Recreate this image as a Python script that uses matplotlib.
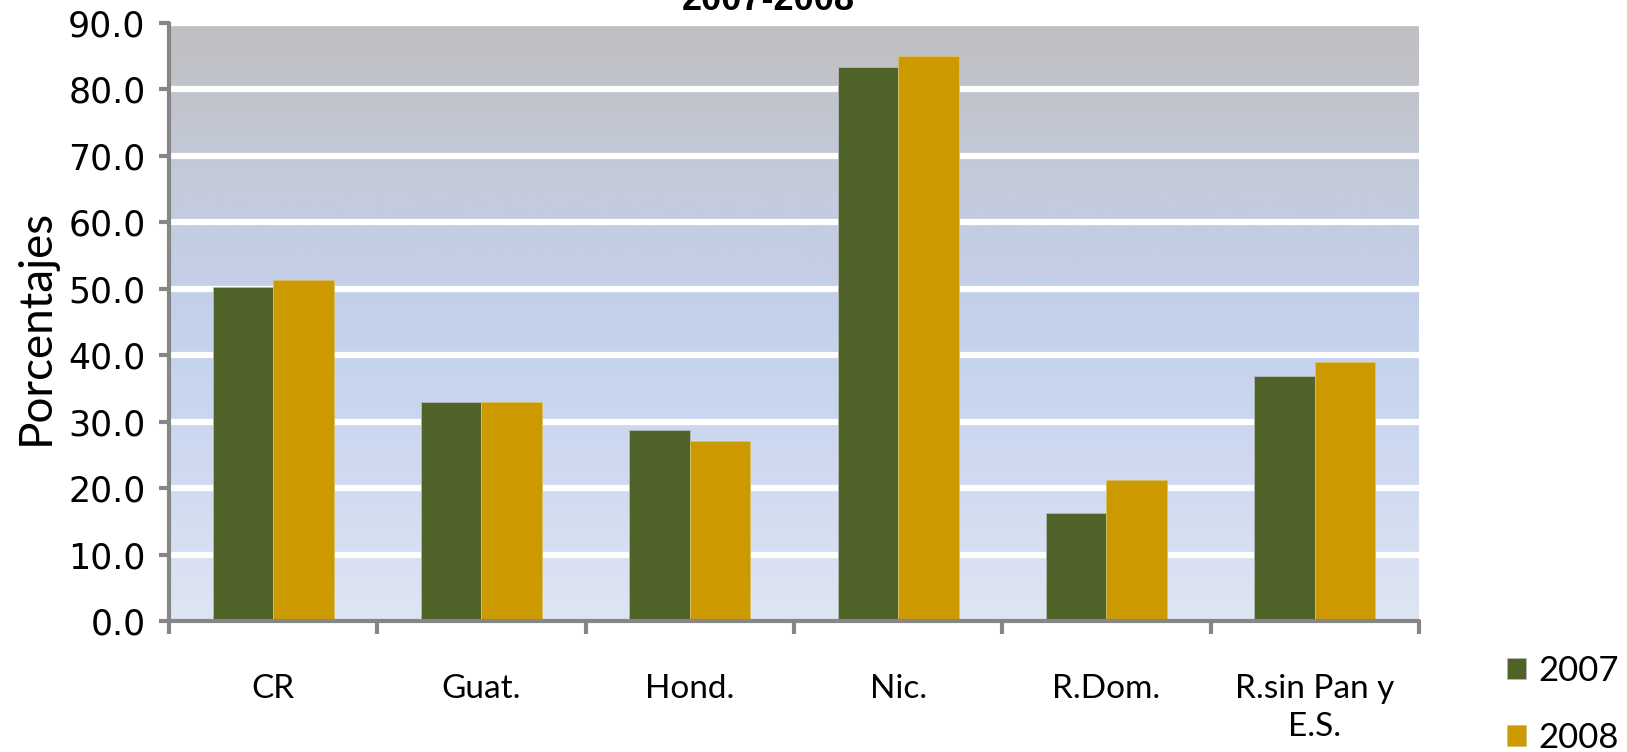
import numpy as np
import matplotlib
matplotlib.use("Agg")
import matplotlib.pyplot as plt
from matplotlib.colors import LinearSegmentedColormap

categories = ["CR", "Guat.", "Hond.", "Nic.", "R.Dom.", "R.sin Pan y\nE.S."]
years = ["2007", "2008"]
vals_2007 = [50.2, 33.0, 28.7, 83.4, 16.3, 36.8]
vals_2008 = [51.3, 33.0, 27.1, 85.1, 21.2, 39.0]
yticks = [0, 10, 20, 30, 40, 50, 60, 70, 80, 90]
title = "2007-2008"
ylabel = "Porcentajes"

c2007 = "#4f6228"
c2008 = "#cc9900"
spine_c = "#868686"
label_font = ["Lato", "DejaVu Sans"]

W, H = 1627, 752
fig = plt.figure(figsize=(W / 100, H / 100), dpi=100)
ax = fig.add_axes([169 / W, 1 - 621 / H, (1419 - 169) / W, (621 - 23) / H])

n = len(categories)
x = np.arange(n)
bw = 0.29
ax.set_xlim(-0.5, n - 0.5)
ax.set_ylim(0, 90)

# gradient background
cmap = LinearSegmentedColormap.from_list(
    "bg", [(0.0, "#dee5f3"), (0.25, "#cfdaf0"), (0.5, "#c3d1ec"),
           (0.72, "#c3cbdc"), (1.0, "#bfbfc1")])
grad = np.linspace(0, 1, 256).reshape(-1, 1)
ax.imshow(grad, cmap=cmap, origin="lower", aspect="auto",
          extent=(-0.5, n - 0.5, 0, 90), zorder=0)

for t in yticks[1:]:
    ax.axhline(t, color="white", lw=4.5, zorder=1)

ax.bar(x - bw / 2, vals_2007, bw, color=c2007, edgecolor="#b8b8b8",
       linewidth=0.6, zorder=3, label=years[0])
ax.bar(x + bw / 2, vals_2008, bw, color=c2008, edgecolor="#d8c070",
       linewidth=0.6, zorder=3, label=years[1])

for s in ["top", "right"]:
    ax.spines[s].set_visible(False)
for s in ["left", "bottom"]:
    ax.spines[s].set_color(spine_c)
    ax.spines[s].set_linewidth(3)
    ax.spines[s].set_capstyle("round")
    ax.spines[s].set_zorder(5)

ax.set_yticks(yticks)
ax.set_yticklabels([f"{v:.1f}" for v in yticks], fontsize=25,
                   family="DejaVu Sans")
ax.tick_params(axis="y", direction="out", length=7, width=3,
               color=spine_c, pad=10)

ax.set_xticks(x)
ax.set_xticklabels(categories, fontsize=24, family=label_font,
                   linespacing=1.35)
ax.tick_params(axis="x", which="major", length=0, pad=38)
ax.set_xticks(np.arange(-0.5, n, 1.0), minor=True)
ax.tick_params(axis="x", which="minor", direction="out", length=9,
               width=3, color=spine_c)

fig.text(36 / W, 1 - 327 / H, ylabel, rotation=90, fontsize=33,
         family=label_font, ha="center", va="center")

fig.text(768 / W, 1 - 10 / H, title, fontsize=26, fontweight="bold",
         family="Liberation Sans", ha="center", va="baseline")

leg = fig.legend(loc="upper left", bbox_to_anchor=(1493 / W, 1 - 641 / H),
                 frameon=False, prop={"family": label_font, "size": 25},
                 handlelength=0.55, handleheight=0.55, handletextpad=0.35,
                 labelspacing=1.0, borderaxespad=0)

fig.savefig("out.png", dpi=100)
